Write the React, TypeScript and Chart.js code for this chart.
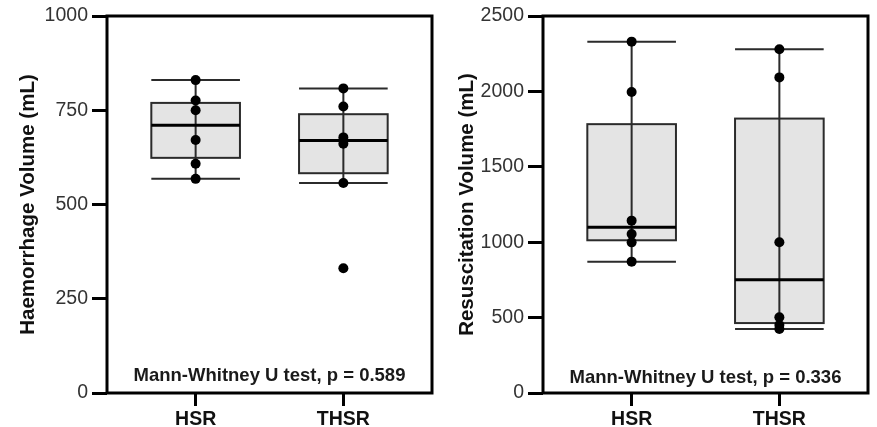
import React, { useEffect, useRef } from 'react';
import { Chart, registerables } from 'chart.js';
Chart.register(...registerables);

const categories = ['HSR', 'THSR'];
const haemHSR = [830, 776, 750, 671, 608, 568];
const haemTHSR = [808, 760, 678, 661, 557, 331];
const resusHSR = [2330, 1996, 1143, 1054, 999, 871];
const resusTHSR = [2280, 2093, 1000, 502, 451, 424];
const haemTicks = [0, 250, 500, 750, 1000];
const resusTicks = [0, 500, 1000, 1500, 2000, 2500];
const haemTitle = 'Haemorrhage Volume (mL)';
const resusTitle = 'Resuscitation Volume (mL)';
const haemNote = 'Mann-Whitney U test, p = 0.589';
const resusNote = 'Mann-Whitney U test, p = 0.336';

const FONT = "'Liberation Sans', Arial, Helvetica, sans-serif";

function quantile(sorted: number[], p: number) {
  const pos = (sorted.length - 1) * p;
  const lo = Math.floor(pos);
  const hi = Math.ceil(pos);
  return sorted[lo] + (sorted[hi] - sorted[lo]) * (pos - lo);
}

function stats(values: number[]) {
  const s = [...values].sort((a, b) => a - b);
  const q1 = quantile(s, 0.25);
  const med = quantile(s, 0.5);
  const q3 = quantile(s, 0.75);
  const iqr = q3 - q1;
  const inside = s.filter((v) => v >= q1 - 1.5 * iqr && v <= q3 + 1.5 * iqr);
  return { q1, med, q3, lo: inside[0], hi: inside[inside.length - 1] };
}

type PanelCfg = {
  groups: number[][];
  ticks: number[];
  title: string;
  note: string;
  yWidth: number;
  padRight: number;
  titlePad: number;
  noteY: number;
};

function makeChart(canvas: HTMLCanvasElement, cfg: PanelCfg) {
  const half = 0.3;
  const boxPlugin = {
    id: 'boxes',
    beforeDatasetsDraw(chart: any) {
      const { ctx } = chart;
      const xs = chart.scales.x;
      const ys = chart.scales.y;
      cfg.groups.forEach((vals, i) => {
        const st = stats(vals);
        const cx = xs.getPixelForValue(i + 1);
        const x0 = xs.getPixelForValue(i + 1 - half);
        const x1 = xs.getPixelForValue(i + 1 + half);
        const yq1 = ys.getPixelForValue(st.q1);
        const yq3 = ys.getPixelForValue(st.q3);
        const ymed = ys.getPixelForValue(st.med);
        const ylo = ys.getPixelForValue(st.lo);
        const yhi = ys.getPixelForValue(st.hi);
        ctx.save();
        ctx.fillStyle = '#e4e4e4';
        ctx.fillRect(x0, yq3, x1 - x0, yq1 - yq3);
        ctx.strokeStyle = '#2b2b2b';
        ctx.lineWidth = 2;
        ctx.strokeRect(x0, yq3, x1 - x0, yq1 - yq3);
        ctx.beginPath();
        ctx.moveTo(cx, ylo);
        ctx.lineTo(cx, yhi);
        ctx.moveTo(x0, ylo);
        ctx.lineTo(x1, ylo);
        ctx.moveTo(x0, yhi);
        ctx.lineTo(x1, yhi);
        ctx.stroke();
        ctx.strokeStyle = '#000';
        ctx.lineWidth = 3;
        ctx.beginPath();
        ctx.moveTo(x0, ymed);
        ctx.lineTo(x1, ymed);
        ctx.stroke();
        ctx.restore();
      });
    },
    afterDraw(chart: any) {
      const { ctx, chartArea } = chart;
      ctx.save();
      ctx.strokeStyle = '#000';
      ctx.lineWidth = 3;
      ctx.strokeRect(chartArea.left, chartArea.top, chartArea.right - chartArea.left, chartArea.bottom - chartArea.top);
      ctx.fillStyle = '#1a1a1a';
      ctx.font = `bold 18.5px ${FONT}`;
      ctx.textAlign = 'center';
      ctx.textBaseline = 'middle';
      ctx.fillText(cfg.note, (chartArea.left + chartArea.right) / 2, cfg.noteY);
      ctx.restore();
    },
  };

  return new Chart(canvas, {
    type: 'scatter',
    data: {
      datasets: cfg.groups.map((vals, i) => ({
        data: vals.map((v) => ({ x: i + 1, y: v })),
        pointRadius: 5,
        pointHoverRadius: 5,
        backgroundColor: '#000',
        borderColor: '#000',
        borderWidth: 0,
        clip: false as any,
      })),
    },
    options: {
      responsive: false,
      animation: false,
      devicePixelRatio: 1,
      events: [],
      layout: { padding: { left: 0, top: 16, right: cfg.padRight, bottom: 0 } },
      plugins: { legend: { display: false }, tooltip: { enabled: false } },
      scales: {
        x: {
          type: 'linear',
          min: 0.4,
          max: 2.6,
          afterBuildTicks: (s: any) => {
            s.ticks = categories.map((_, i) => ({ value: i + 1 }));
          },
          afterFit: (s: any) => {
            s.height = 34;
          },
          ticks: {
            callback: (v: any) => categories[Math.round(v) - 1] ?? '',
            font: { family: FONT, size: 19.5, weight: 'bold' },
            color: '#111',
            padding: 2,
            maxRotation: 0,
          },
          grid: { display: true, drawOnChartArea: false, drawTicks: true, tickLength: 13, tickWidth: 3, tickColor: '#000' },
          border: { display: false },
        },
        y: {
          type: 'linear',
          min: cfg.ticks[0],
          max: cfg.ticks[cfg.ticks.length - 1],
          afterBuildTicks: (s: any) => {
            s.ticks = cfg.ticks.map((v) => ({ value: v }));
          },
          afterFit: (s: any) => {
            s.width = cfg.yWidth;
          },
          ticks: {
            font: { family: FONT, size: 19.5 },
            color: '#333',
            padding: 4,
            callback: (v: any) => String(v),
          },
          grid: { display: true, drawOnChartArea: false, drawTicks: true, tickLength: 15, tickWidth: 3, tickColor: '#000' },
          border: { display: false },
          title: {
            display: true,
            text: cfg.title,
            font: { family: FONT, size: 20.5, weight: 'bold' },
            color: '#111',
            padding: { top: cfg.titlePad, bottom: 0 },
          },
        },
      },
    },
    plugins: [boxPlugin],
  } as any);
}

function Panel({ cfg, left, width }: { cfg: PanelCfg; left: number; width: number }) {
  const ref = useRef<HTMLCanvasElement>(null);
  useEffect(() => {
    const c = makeChart(ref.current!, cfg);
    return () => c.destroy();
  }, []);
  return (
    <canvas
      ref={ref}
      width={width}
      height={427}
      style={{ position: 'absolute', left, top: 0, width, height: 427 }}
    />
  );
}

export default function App() {
  const leftCfg: PanelCfg = {
    groups: [haemHSR, haemTHSR],
    ticks: haemTicks,
    title: haemTitle,
    note: haemNote,
    yWidth: 107,
    padRight: 6,
    titlePad: 16,
    noteY: 376,
  };
  const rightCfg: PanelCfg = {
    groups: [resusHSR, resusTHSR],
    ticks: resusTicks,
    title: resusTitle,
    note: resusNote,
    yWidth: 105,
    padRight: 9,
    titlePad: 17,
    noteY: 378,
  };
  return (
    <div style={{ position: 'absolute', left: 0, top: 0, width: 877, height: 427, background: '#fff', overflow: 'hidden' }}>
      <Panel cfg={leftCfg} left={0} width={438} />
      <Panel cfg={rightCfg} left={438} width={439} />
    </div>
  );
}
